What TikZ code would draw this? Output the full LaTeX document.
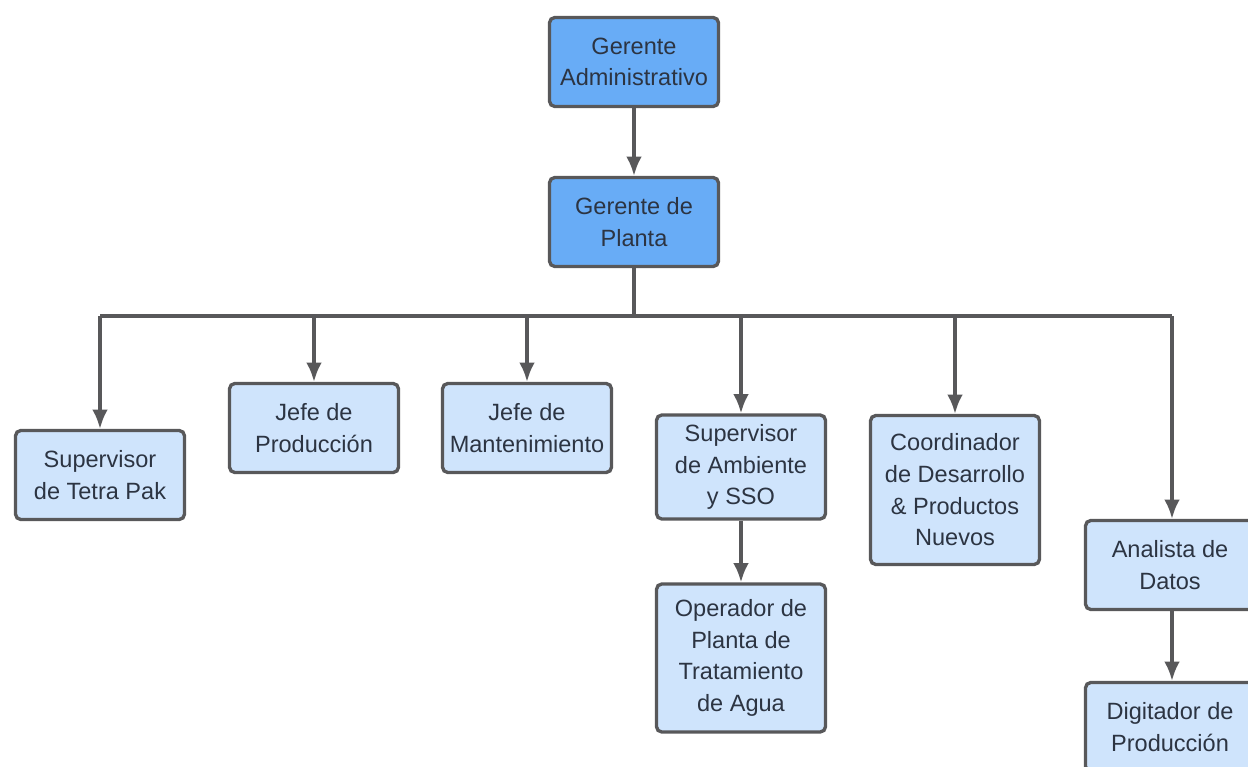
\documentclass[tikz,border=0pt]{standalone}
\usepackage{fontspec}
\setmainfont{Liberation Sans}
\usepackage{tikz}
\usetikzlibrary{arrows.meta, positioning, calc}
\definecolor{bordegris}{RGB}{88,88,90}
\definecolor{azulfuerte}{RGB}{104,172,246}
\definecolor{azulclaro}{RGB}{207,228,252}
\definecolor{textogris}{RGB}{44,52,66}

\begin{document}
\begin{tikzpicture}[x=0.02cm,y=-0.02cm,
  % cajas de la gerencia y de los puestos
  jefe/.style={draw=bordegris,fill=azulfuerte,line width=1.9pt,rounded corners=3pt,
    minimum width=3.38cm,minimum height=1.78cm,align=center,text=textogris,
    font=\fontsize{13.4}{18}\selectfont},
  puesto/.style={jefe,fill=azulclaro},
  arr/.style={-{Latex[length=11pt,width=9pt]},line width=1.9pt,draw=bordegris}]

  \useasboundingbox (0,0) rectangle (1248,767);
  \clip (0,0) rectangle (1248,767);

  \node[jefe](ga) at (634,62){Gerente\\Administrativo};
  \node[jefe](gp) at (634,222){Gerente de\\Planta};

  \node[puesto](tetra) at (100,475){Supervisor\\de Tetra Pak};
  \node[puesto](prod) at (314,428){Jefe de\\Producción};
  \node[puesto](mant) at (527,428){Jefe de\\Mantenimiento};
  \node[puesto,minimum height=2.08cm](amb) at (741,467){Supervisor\\de Ambiente\\y SSO};
  \node[puesto,minimum height=2.96cm](oper) at (741,658){Operador de\\Planta de\\Tratamiento\\de Agua};
  \node[puesto,minimum height=2.98cm](coord) at (955,490){Coordinador\\de Desarrollo\\\& Productos\\Nuevos};
  \node[puesto](anal) at (1170,565){Analista de\\Datos};
  \node[puesto](digit) at (1170,727){Digitador de\\Producción};

  \coordinate(busL) at (100,316);
  \coordinate(busR) at (1172,316);

  \draw[arr](ga)--(gp);
  \draw[arr,-](gp.south)--(gp.south |- busL);
  \draw[arr,-](busL)--(busR);
  \draw[arr](busL)--(tetra.north);
  \draw[arr](prod.north |- busL)--(prod.north);
  \draw[arr](mant.north |- busL)--(mant.north);
  \draw[arr](amb.north |- busL)--(amb.north);
  \draw[arr](coord.north |- busL)--(coord.north);
  \draw[arr](busR)--(busR |- anal.north);
  \draw[arr](amb)--(oper);
  \draw[arr](busR |- anal.south)--(busR |- digit.north);

\end{tikzpicture}
\end{document}
